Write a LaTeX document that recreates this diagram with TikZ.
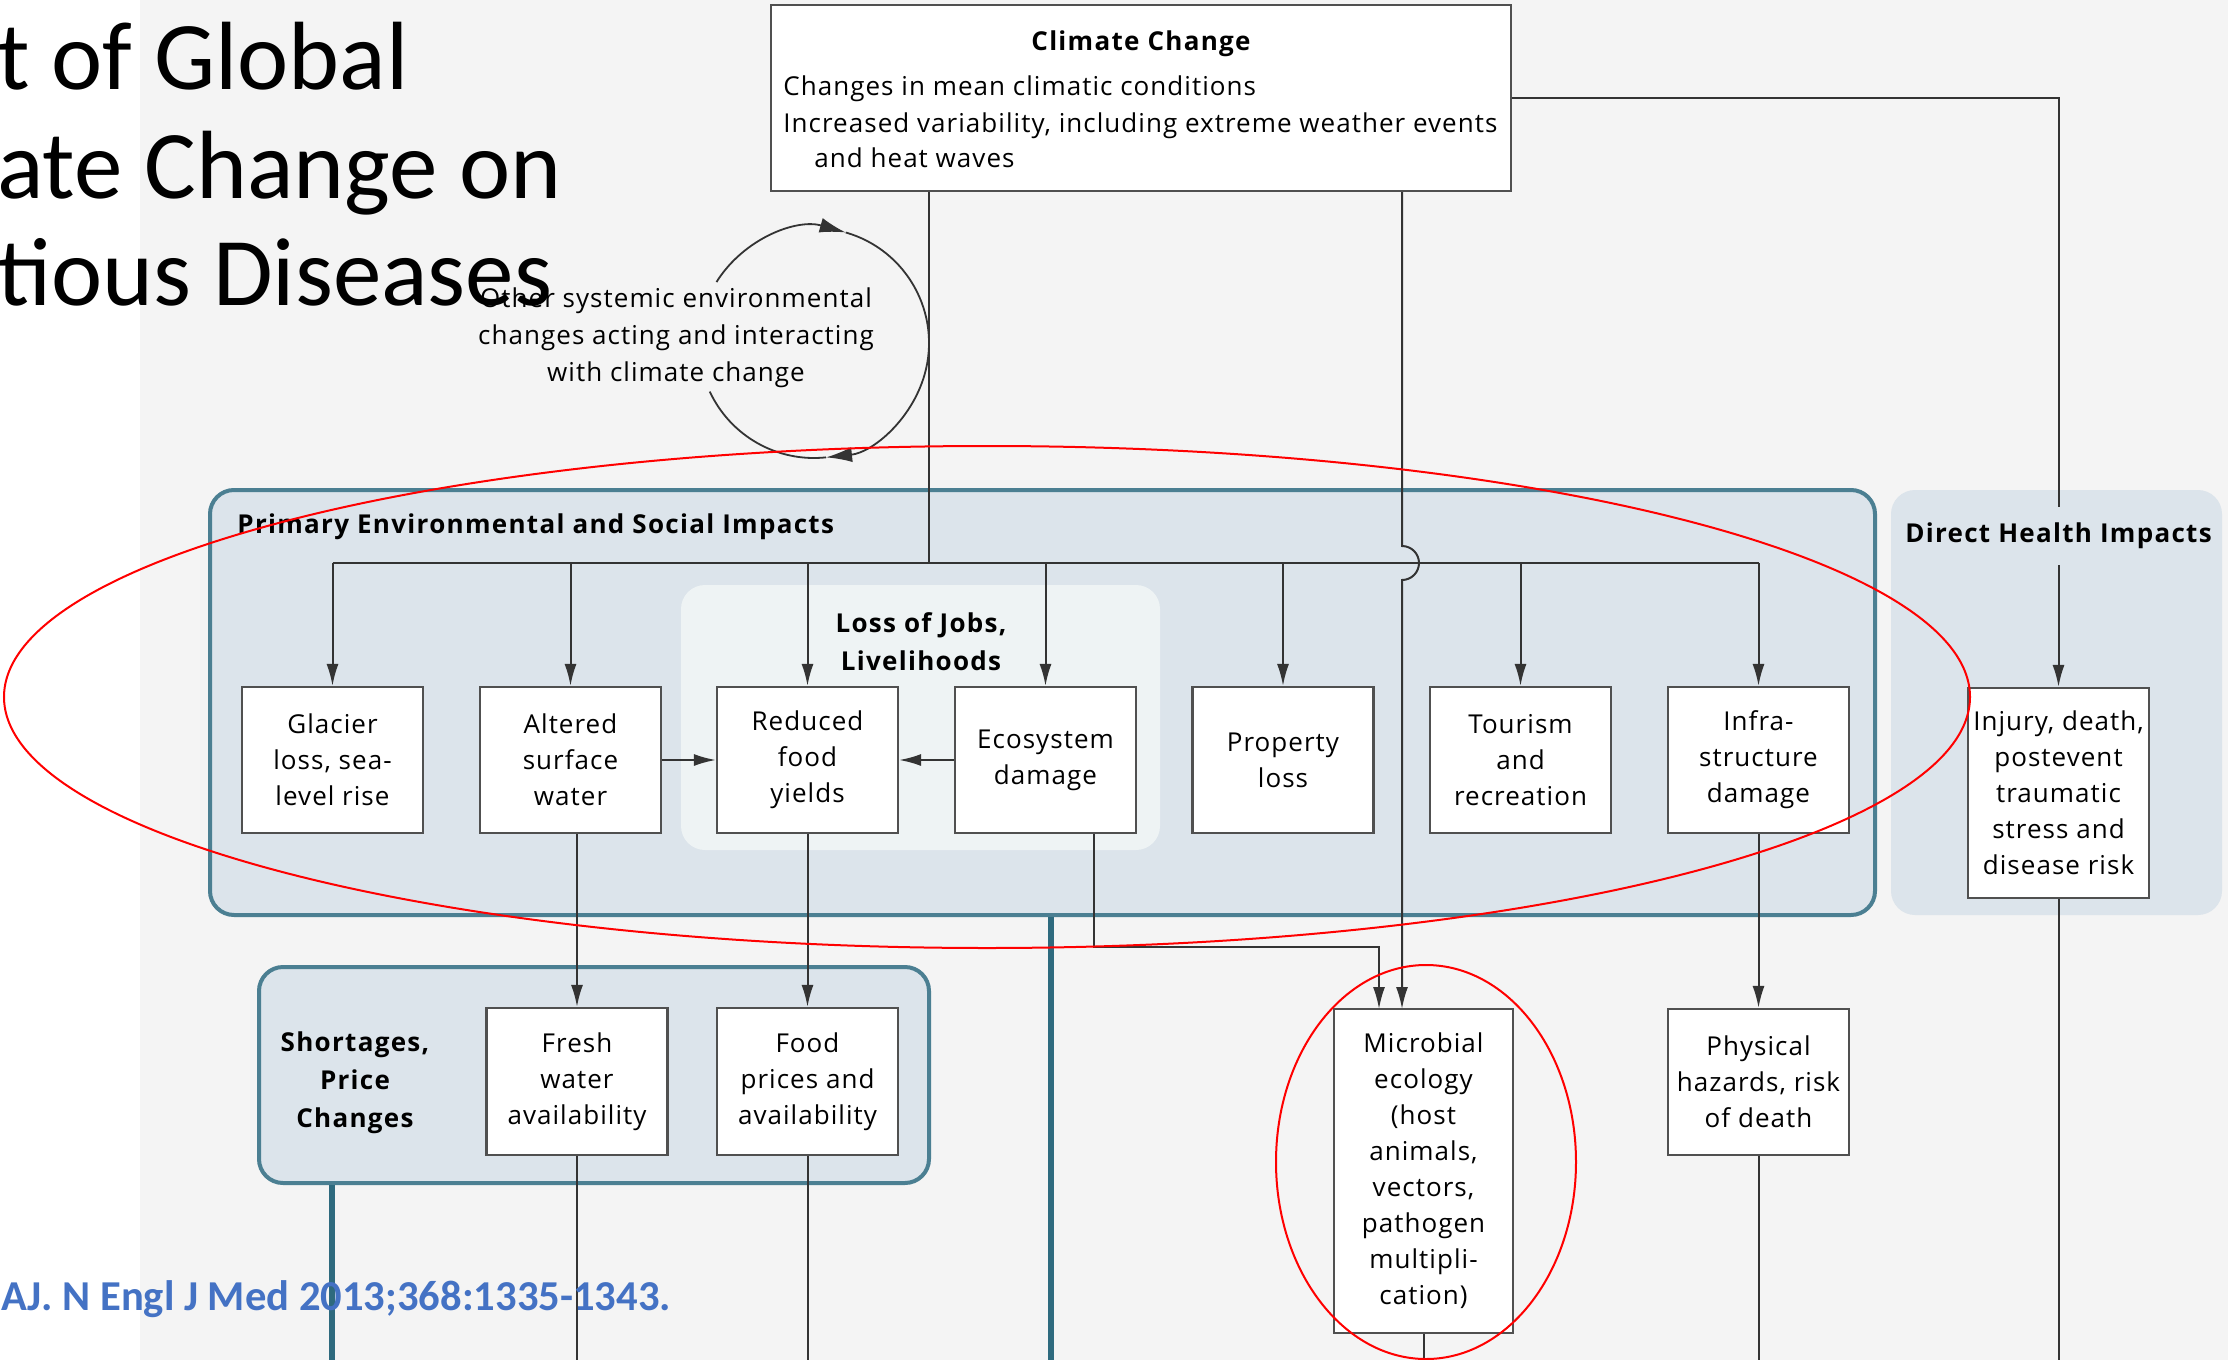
\documentclass[tikz,border=0pt]{standalone}
\usepackage{fontspec}
\usetikzlibrary{arrows.meta}
\newfontfamily\figfont[LetterSpace=4]{Open Sans}
\newfontfamily\figheadfont[LetterSpace=5]{Open Sans}
\newfontfamily\slidefont{Carlito}
\definecolor{bggray}{HTML}{F4F4F4}
\definecolor{panelfill}{HTML}{DCE4EB}
\definecolor{jobsfill}{HTML}{EEF3F4}
\definecolor{panelteal}{HTML}{4B7F92}
\definecolor{trunkteal}{HTML}{2E6A7E}
\definecolor{boxline}{HTML}{505050}
\definecolor{wirecol}{HTML}{333333}
\definecolor{citeblue}{HTML}{4472C4}
\tikzset{
  box/.style={draw=boxline, fill=white, line width=1.1pt, inner sep=0pt, minimum width=90.5pt,
    align=center, font=\figfont\fontsize{13}{18}\selectfont},
  txt/.style={inner sep=0pt, font=\figfont\fontsize{13}{18.5}\selectfont},
  head/.style={inner sep=0pt, align=center, font=\figheadfont\bfseries\fontsize{13}{19}\selectfont},
  panel/.style={draw=panelteal, fill=panelfill, line width=2pt, rounded corners=12pt},
  softpanel/.style={rounded corners=12pt},
  wire/.style={draw=wirecol, line width=1pt},
  trunk/.style={draw=trunkteal, line width=3pt},
  arr/.style={-{Latex[length=11pt,width=6pt]}},
  cyc/.style={draw=wirecol, line width=0.9pt},
  ring/.style={draw=red, line width=1pt},
  slide/.style={inner sep=0pt, anchor=base west, font=\slidefont\fontsize{48.5}{54}\selectfont}
}
\begin{document}
\begin{tikzpicture}[x=0.5pt, y=-0.5pt]
	\useasboundingbox (0,0) rectangle (2228,1360);
	\fill[white] (0,0) rectangle (2228,1360);
	\fill[bggray] (140,0) rectangle (2228,1360);
	
	%%% panels
	\node[panel, minimum width=832.5pt, minimum height=212.5pt] (primary) at (1042.5,702.5) {};
	\node[softpanel, fill=panelfill, minimum width=165.5pt, minimum height=212.5pt] (direct) at (2056.5,702.5) {};
	\node[softpanel, fill=jobsfill, minimum width=239.5pt, minimum height=132.5pt] (jobs) at (920.5,717.5) {};
	\node[panel, minimum width=335pt, minimum height=108pt] (shortages) at (594,1075) {};
	
	\node[head, anchor=base west] (primarylbl) at (237,533) {Primary Environmental and Social Impacts};
	\node[head] (jobslbl) at (921,642) {Loss of Jobs,\\Livelihoods};
	\node[head, inner ysep=8pt] (directlbl) at (2058.5,536) {Direct Health Impacts};
	\node[head] (shortlbl) at (355,1083) {Shortages,\\Price\\Changes};
	
	%%% climate change
	\node[box, minimum width=370pt, minimum height=93pt] (climate) at (1141,98) {};
	\node[head, anchor=base] (climatelbl) at (1141,50) {Climate Change};
	\node[txt, anchor=base west] (climate1) at (783,95) {Changes in mean climatic conditions};
	\node[txt, anchor=base west] (climate2) at (783,132) {Increased variability, including extreme weather events};
	\node[txt, anchor=base west] (climate3) at (814,167) {and heat waves};
	
	%%% cycle of other changes
	\coordinate (cyc) at (814,343);
	\node[txt, align=center] (others) at (676,338) {Other systemic environmental\\changes acting and interacting\\with climate change};
	\draw[cyc, -{Latex[length=13pt,width=7.5pt]}] (cyc) ++(148:57.5pt) arc[start angle=148, end angle=74, radius=57.5pt];
	\draw[cyc, -{Latex[length=13pt,width=7.5pt]}] (cyc) ++(74:57.5pt) arc[start angle=74, end angle=-84, radius=57.5pt];
	\draw[cyc] (cyc) ++(-84:57.5pt) arc[start angle=-84, end angle=-155, radius=57.5pt];
	
	%%% primary impacts
	\node[box, minimum height=73pt] (glacier) at (332.5,760) {Glacier\\loss, sea-\\level rise};
	\node[box, minimum height=73pt] (altered) at (570.5,760) {Altered\\surface\\water};
	\node[box, minimum height=73pt] (reduced) at (807.5,760) {Reduced\\food\\yields};
	\node[box, minimum height=73pt] (ecosys) at (1045.5,760) {Ecosystem\\damage};
	\node[box, minimum height=73pt] (property) at (1283,760) {Property\\loss};
	\node[box, minimum height=73pt] (tourism) at (1520.5,760) {Tourism\\and\\recreation};
	\node[box, minimum height=73pt] (infra) at (1758.5,760) {Infra-\\structure\\damage};
	\node[box, minimum height=105pt] (injury) at (2058.5,793) {Injury, death,\\postevent\\traumatic\\stress and\\disease risk};
	
	%%% secondary effects
	\node[box, minimum height=73.5pt] (fresh) at (577,1081.5) {Fresh\\water\\availability};
	\node[box, minimum height=73.5pt] (food) at (807.5,1081.5) {Food\\prices and\\availability};
	\node[box, minimum width=89.5pt, minimum height=162pt] (microbial) at (1423.5,1171) {Microbial\\ecology\\(host\\animals,\\vectors,\\pathogen\\multipli-\\cation)};
	\node[box, minimum height=73pt] (physical) at (1758.5,1082) {Physical\\hazards, risk\\of death};
	
	\coordinate (bus) at (929,563);
	\coordinate (jump) at (1402,563);
	\coordinate (micA) at (1379,1009);
	\coordinate (micB) at (1402,1009);
	\coordinate (turn) at (1094,947);
	\coordinate (bottom) at (0,1360);
	
	%%% climate -> impacts
	\draw[wire] (bus |- climate.south) -- (bus);
	\draw[wire] (glacier.north |- bus) -- (infra.north |- bus);
	\foreach \n in {glacier,altered,reduced,ecosys,property,tourism,infra}
		\draw[wire, arr] (\n.north |- bus) -- (\n.north);
	\draw[wire, arr] (jump |- climate.south) -- ([yshift=8.5pt]jump) arc[start angle=90, end angle=-90, radius=8.5pt] -- (micB);
	\draw[wire] (climate.east) -| (directlbl.north);
	\draw[wire, arr] (directlbl.south) -- (injury.north);
	
	%%% impacts -> effects
	\draw[wire, arr] (altered) -- (reduced);
	\draw[wire, arr] (ecosys) -- (reduced);
	\draw[wire, arr] (fresh.north |- altered.south) -- (fresh.north);
	\draw[wire, arr] (reduced) -- (food);
	\draw[wire, arr] (turn |- ecosys.south) -- (turn) -| (micA);
	\draw[wire, arr] (infra) -- (physical);
	
	%%% leaving the page
	\foreach \n in {fresh,food,microbial,physical,injury}
		\draw[wire] (\n.south) -- (\n.south |- bottom);
	\draw[trunk] ([xshift=4.25pt]primary.south) -- ([xshift=4.25pt]primary.south |- bottom);
	\draw[trunk] ([xshift=-131pt]shortages.south) -- ([xshift=-131pt]shortages.south |- bottom);
	
	%%% red marks
	\draw[ring] (987,697) ellipse [x radius=491.5pt, y radius=125.5pt];
	\draw[ring] (1426,1162) ellipse [x radius=75pt, y radius=98.5pt];
	
	%%% slide title and source
	\node[slide] (title1) at (-3,89) {t of Global};
	\node[slide] (title2) at (-3,198) {ate Change on};
	\node[slide] (title3) at (-3,305) {tious Diseases};
	\node[inner sep=0pt, anchor=base west, text=citeblue, font=\slidefont\bfseries\fontsize{21.3}{24}\selectfont] (source) at (1,1310) {AJ. N Engl J Med 2013;368:1335-1343.};
	
\end{tikzpicture}
\end{document}
